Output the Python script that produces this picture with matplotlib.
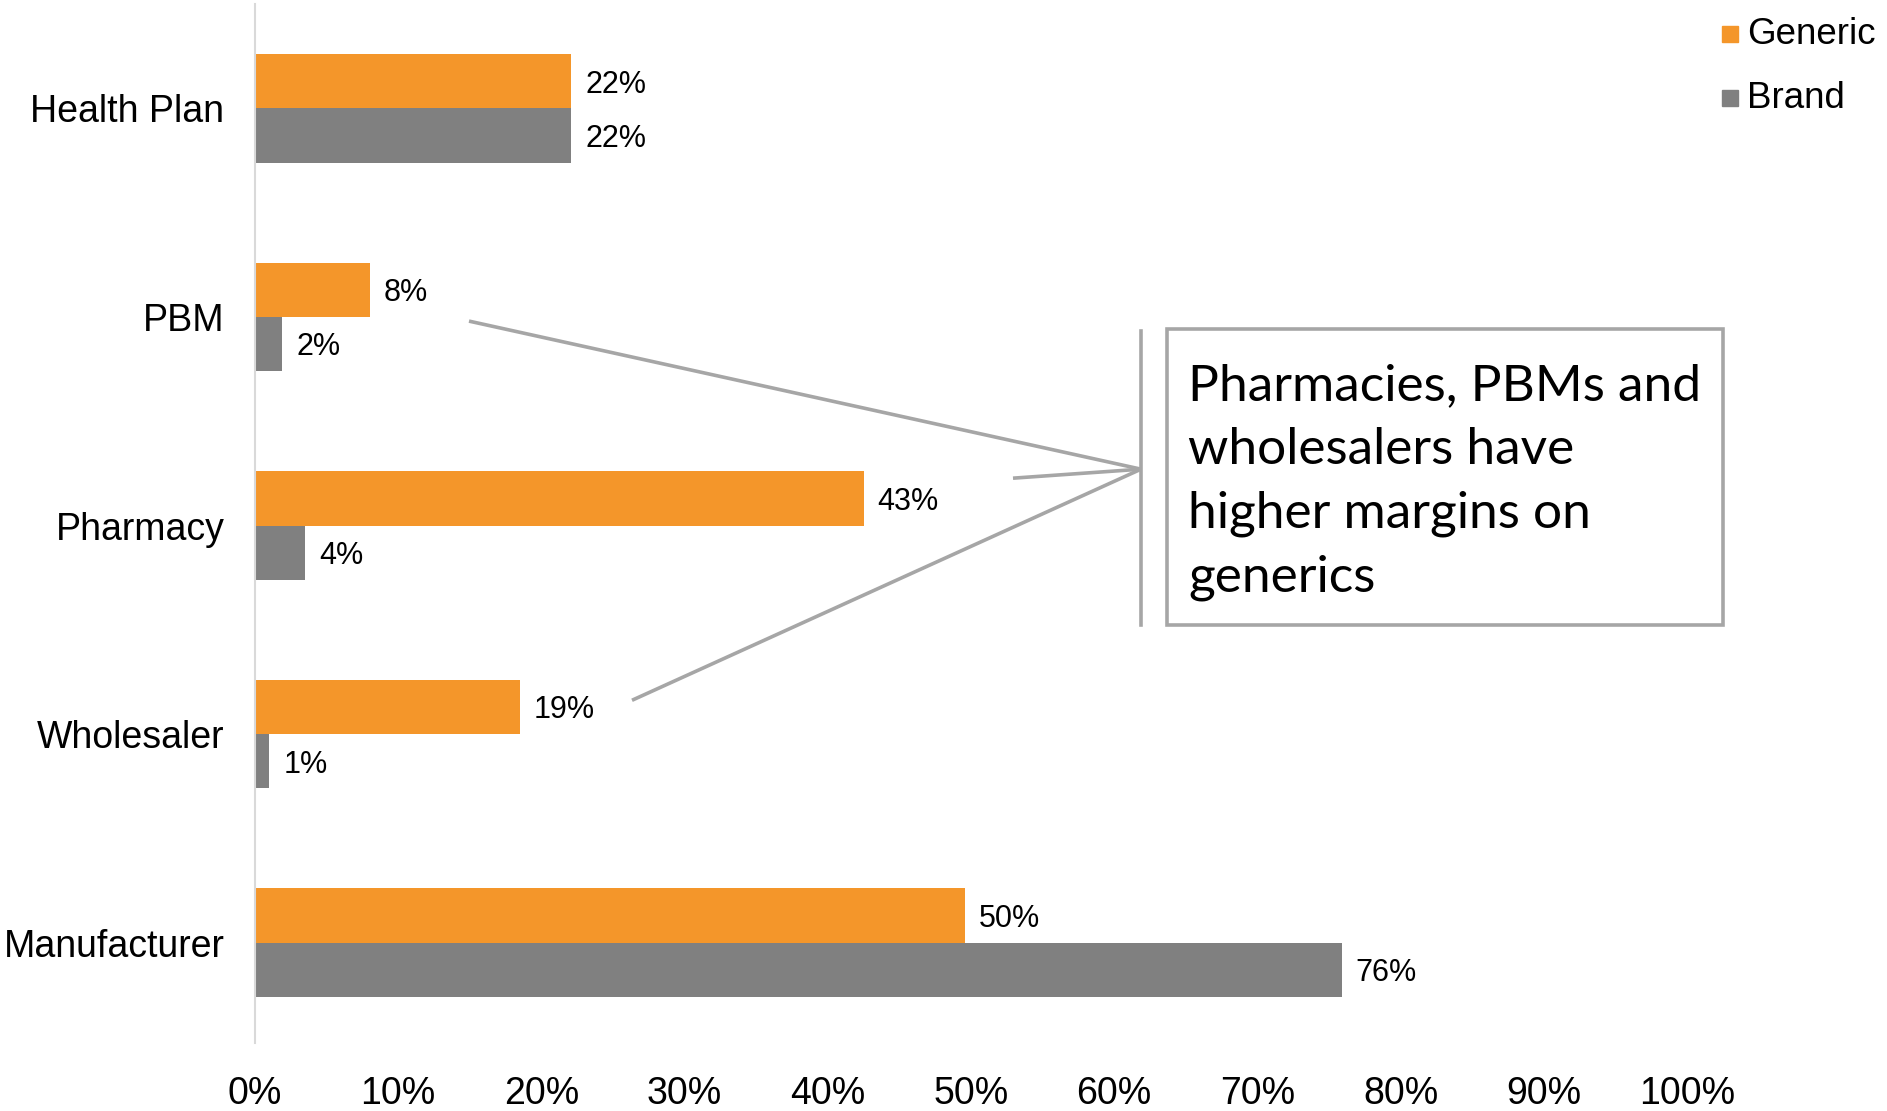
import matplotlib
matplotlib.use("Agg")
import matplotlib.pyplot as plt
from matplotlib.lines import Line2D
from matplotlib.patches import Rectangle

categories = ["Health Plan", "PBM", "Pharmacy", "Wholesaler", "Manufacturer"]
generic = [22.1, 8.0, 42.5, 18.5, 49.6]
brand = [22.1, 1.9, 3.5, 1.0, 75.9]
generic_labels = ["22%", "8%", "43%", "19%", "50%"]
brand_labels = ["22%", "2%", "4%", "1%", "76%"]
xticks = [0, 10, 20, 30, 40, 50, 60, 70, 80, 90, 100]
note = "Pharmacies, PBMs and\nwholesalers have\nhigher margins on\ngenerics"

ORANGE = "#F4962A"
GREY = "#808080"
LINE = "#A6A6A6"

plt.rcParams['font.family'] = ['Liberation Sans', 'DejaVu Sans']

W, H = 1887, 1111
fig = plt.figure(figsize=(W / 100, H / 100), dpi=100)
ax = fig.add_axes([255 / W, 1 - 1047 / H, (1687 - 255) / W, (1047 - 4) / H])

bh = 0.26
y = list(range(len(categories)))
ax.barh([i - bh / 2 for i in y], generic, height=bh, color=ORANGE)
ax.barh([i + bh / 2 for i in y], brand, height=bh, color=GREY)

for i in y:
    ax.annotate(generic_labels[i], (generic[i], i - bh / 2), xytext=(10, -2.5),
                textcoords="offset points", va="center", ha="left", fontsize=22)
    ax.annotate(brand_labels[i], (brand[i], i + bh / 2), xytext=(10, -2.5),
                textcoords="offset points", va="center", ha="left", fontsize=22)

ax.set_xlim(0, 100)
ax.set_ylim(len(categories) - 0.5, -0.5)
ax.set_yticks(y)
ax.set_yticklabels(categories, fontsize=27)
ax.set_xticks(xticks)
ax.set_xticklabels([f"{t}%" for t in xticks], fontsize=27,
                   family=['Liberation Sans Narrow', 'Liberation Sans', 'DejaVu Sans'])
ax.tick_params(axis='y', length=0, pad=22)
ax.tick_params(axis='x', length=0, pad=21)
for s in ["top", "right", "bottom"]:
    ax.spines[s].set_visible(False)
ax.spines["left"].set_color("#D9D9D9")
ax.spines["left"].set_linewidth(1.5)
ax.spines["left"].set_bounds(4.48, -0.5)

# annotation lines (data coords)
def px2d(px, py):
    return (px - 255) / 1432 * 100, (py - 108.3) / 208.5

apex = px2d(1141, 469)
for end in [(469, 321), (1013, 478), (632, 700)]:
    e = px2d(*end)
    ax.plot([e[0], apex[0]], [e[1], apex[1]], color=LINE, lw=2.6, clip_on=False,
            solid_capstyle='butt')
v0 = px2d(1141, 331)
v1 = px2d(1141, 625)
ax.plot([v0[0], v1[0]], [v0[1], v1[1]], color=LINE, lw=2.6, clip_on=False)

# text box in figure pixel coords
box = Rectangle((1167 / W, 1 - 625 / H), (1723 - 1167) / W, (625 - 329) / H,
                transform=fig.transFigure, fill=False, edgecolor=LINE, lw=2.6)
fig.add_artist(box)
fig.text(1188 / W, 1 - 482 / H, note, transform=fig.transFigure, fontsize=37,
         family=['Lato', 'DejaVu Sans'], va='center', ha='left', linespacing=1.48)

# legend
for (label, col, py) in [("Generic", ORANGE, 34), ("Brand", GREY, 98)]:
    fig.add_artist(Line2D([1729.5 / W], [1 - py / H], marker='s', markersize=12,
                          color=col, linestyle='none', transform=fig.transFigure))
    fig.text(1747 / W, 1 - py / H, label, fontsize=26.5, va='center', ha='left')

fig.savefig("out.png", dpi=100)
